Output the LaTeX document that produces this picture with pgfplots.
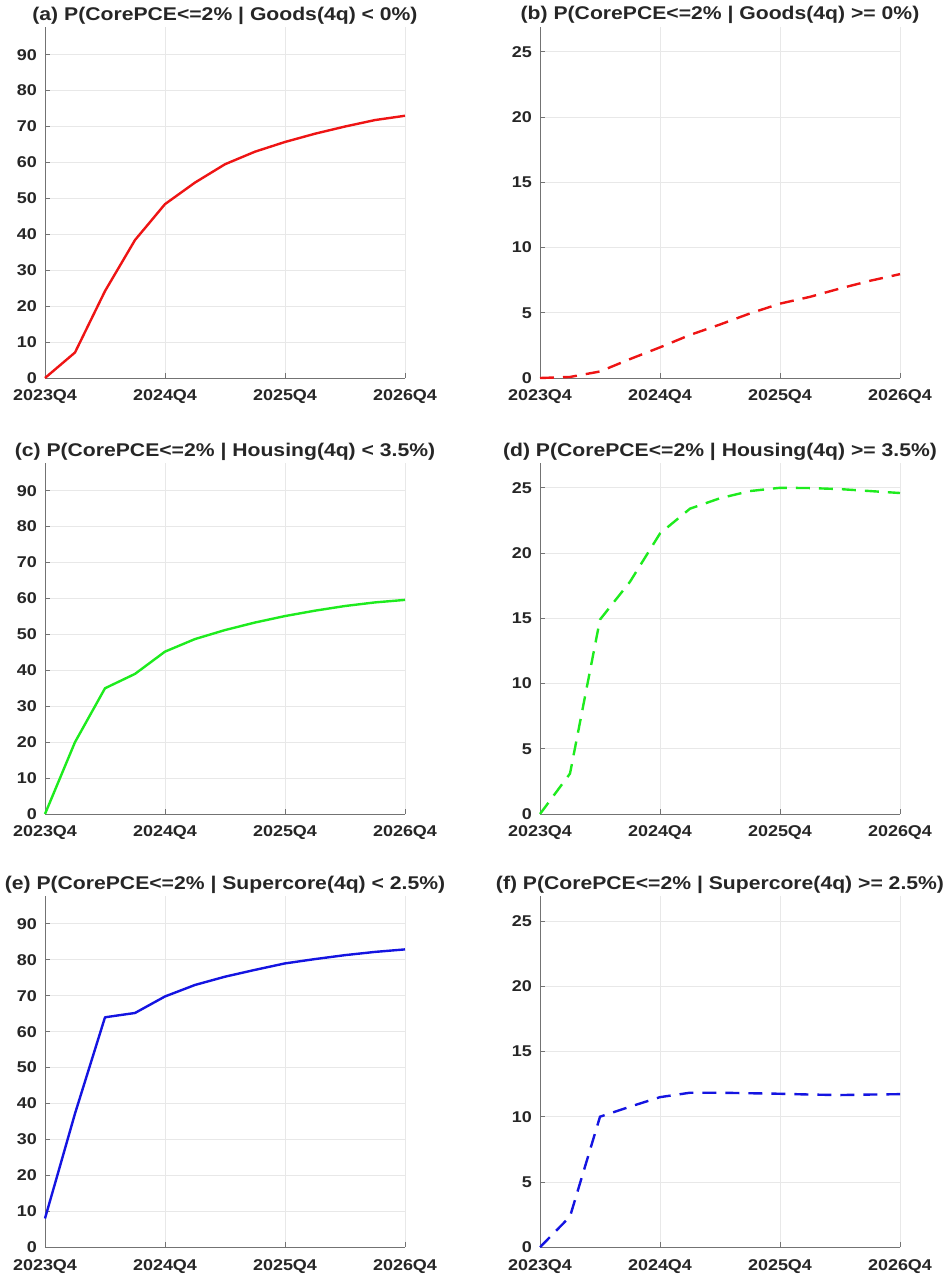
\documentclass[border=0pt]{standalone}
\usepackage{fontspec}
\setmainfont{Liberation Sans}[FakeStretch=1.15]
\usepackage{pgfplots}
\usepackage{pgfplotstable}
\pgfplotsset{compat=1.18}

\pgfplotstableread{
x a b c d e f
0 0 0 0 0 8.0 0
1 7.1 0.08 20.0 3.1 37.2 2.35
2 24.2 0.5 35.0 14.9 64.0 10.0
3 38.4 1.45 39.0 17.8 65.2 10.77
4 48.4 2.35 45.2 21.5 69.8 11.5
5 54.4 3.3 48.7 23.4 73.0 11.84
6 59.5 4.1 51.2 24.2 75.3 11.84
7 63.0 4.95 53.3 24.75 77.2 11.8
8 65.7 5.7 55.1 25.0 79.0 11.76
9 68.0 6.22 56.6 24.98 80.2 11.7
10 70.0 6.86 57.9 24.9 81.3 11.66
11 71.8 7.45 58.9 24.75 82.2 11.7
12 73.0 7.96 59.6 24.6 82.9 11.73
}\data

\definecolor{mred}{RGB}{238,20,20}
\definecolor{mgreen}{RGB}{30,235,30}
\definecolor{mblue}{RGB}{20,20,225}

\pgfplotsset{
  myax/.style={
    scale only axis, width=180pt, height=175.5pt,
    anchor=south west,
    xmin=0, xmax=12, xtick={0,4,8,12},
    xticklabels={2023Q4,2024Q4,2025Q4,2026Q4},
    axis x line*=bottom, axis y line*=left,
    axis line style={-, draw=black!55, line width=0.5pt},
    tick align=inside, major tick length=2.5pt,
    tick style={draw=black!55, line width=0.4pt},
    grid=major, major grid style={draw=black!9, line width=0.4pt},
    /pgf/number format/assume math mode=true,
    tick label style={font=\bfseries\fontsize{7.8pt}{9pt}\selectfont, text=black!85},
    xticklabel style={yshift=-2.5pt},
    yticklabel style={xshift=-0.5pt},
    title style={at={(0.5,1)}, anchor=base, yshift=-2.5pt,
      font=\bfseries\fontsize{9.2pt}{11pt}\selectfont, text=black!85},
    clip=false,
  },
  lax/.style={myax, ymin=0, ymax=97.7, ytick={0,10,...,90}},
  rax/.style={myax, ymin=0, ymax=26.9, ytick={0,5,...,25}},
  sol/.style={line width=1.2pt, line join=round},
  dsh/.style={line width=1.2pt, dash pattern=on 7pt off 4.5pt},
}

\begin{document}
\begin{tikzpicture}
\useasboundingbox (0,0) rectangle (475.5pt,-637pt);

\begin{axis}[lax, at={(22.5pt,-189pt)},
  title={(a) P(CorePCE<=2\% | Goods(4q) < 0\%)}]
\addplot[sol, mred] table[x=x,y=a] {\data};
\end{axis}

\begin{axis}[rax, at={(270pt,-189pt)},
  title={(b) P(CorePCE<=2\% | Goods(4q) >= 0\%)}]
\addplot[dsh, mred] table[x=x,y=b] {\data};
\end{axis}

\begin{axis}[lax, at={(22.5pt,-407pt)},
  title={(c) P(CorePCE<=2\% | Housing(4q) < 3.5\%)}]
\addplot[sol, mgreen] table[x=x,y=c] {\data};
\end{axis}

\begin{axis}[rax, at={(270pt,-407pt)},
  title={(d) P(CorePCE<=2\% | Housing(4q) >= 3.5\%)}]
\addplot[dsh, mgreen] table[x=x,y=d] {\data};
\end{axis}

\begin{axis}[lax, at={(22.5pt,-623.6pt)},
  title={(e) P(CorePCE<=2\% | Supercore(4q) < 2.5\%)}]
\addplot[sol, mblue] table[x=x,y=e] {\data};
\end{axis}

\begin{axis}[rax, at={(270pt,-623.6pt)},
  title={(f) P(CorePCE<=2\% | Supercore(4q) >= 2.5\%)}]
\addplot[dsh, mblue] table[x=x,y=f] {\data};
\end{axis}

\end{tikzpicture}
\end{document}
